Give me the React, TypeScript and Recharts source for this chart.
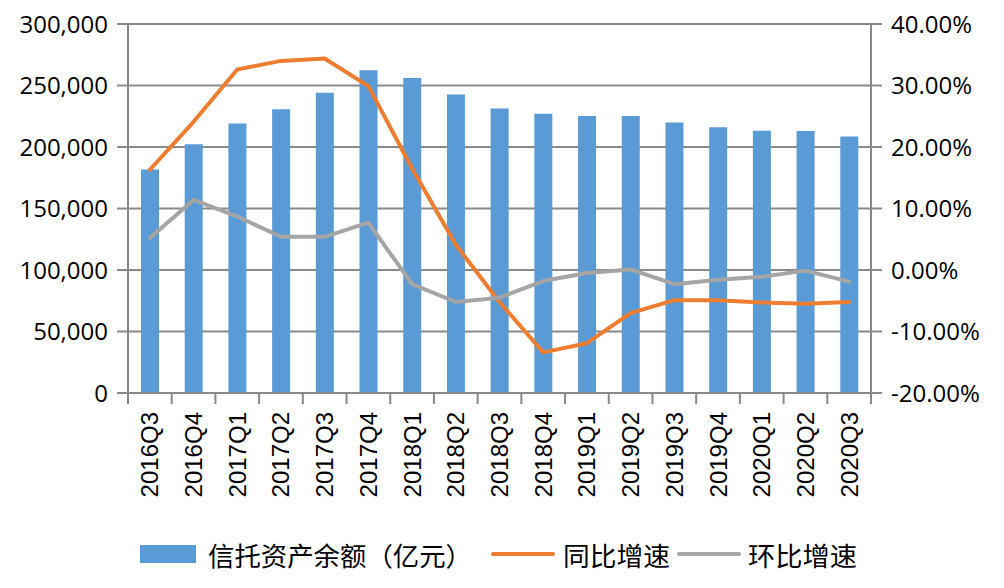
import {
  ComposedChart,
  Bar,
  Line,
  XAxis,
  YAxis,
  CartesianGrid,
  Legend,
} from "recharts";

const quarters = [
  "2016Q3", "2016Q4", "2017Q1", "2017Q2", "2017Q3", "2017Q4",
  "2018Q1", "2018Q2", "2018Q3", "2018Q4", "2019Q1", "2019Q2",
  "2019Q3", "2019Q4", "2020Q1", "2020Q2", "2020Q3",
];
// 信托资产余额（亿元）
const balance = [
  181700, 202200, 219100, 230700, 244100, 262500,
  256100, 242700, 231400, 227000, 225300, 225300,
  219900, 216000, 213300, 213000, 208600,
];
// 同比增速
const yoy = [
  0.163, 0.241, 0.326, 0.34, 0.344, 0.299,
  0.165, 0.041, -0.052, -0.134, -0.119, -0.07,
  -0.049, -0.049, -0.053, -0.055, -0.052,
];
// 环比增速
const qoq = [
  0.052, 0.114, 0.087, 0.054, 0.054, 0.077,
  -0.023, -0.052, -0.045, -0.018, -0.005, 0.001,
  -0.023, -0.016, -0.011, -0.001, -0.019,
];
const leftTicks = [0, 50000, 100000, 150000, 200000, 250000, 300000];
const rightTicks = [-0.2, -0.1, 0, 0.1, 0.2, 0.3, 0.4];

const data = quarters.map((q, i) => ({
  q,
  balance: balance[i],
  yoy: yoy[i],
  qoq: qoq[i],
}));

const W = 1004;
const H = 588;
const LEFT_W = 128;
const RIGHT_W = 133;
const BAND = (W - LEFT_W - RIGHT_W) / quarters.length;

const BLUE = "#5b9bd5";
const ORANGE = "#ed7d31";
const GRAY = "#a5a5a5";
const AXIS = "#898989";
const numFont = { fontFamily: "Open Sans", fontSize: 24, fill: "#000" };

function QuarterTick(props: any) {
  const { x, y, payload, index } = props;
  const half = BAND / 2;
  const ty = y + 19;
  return (
    <g>
      <line x1={x - half} x2={x - half} y1={y} y2={y + 11} stroke={AXIS} strokeWidth={2} />
      {index === quarters.length - 1 && (
        <line x1={x + half} x2={x + half} y1={y} y2={y + 11} stroke={AXIS} strokeWidth={2} />
      )}
      <text
        x={x}
        y={ty}
        transform={`rotate(-90 ${x} ${ty})`}
        textAnchor="end"
        dominantBaseline="central"
        fontFamily="Liberation Sans"
        fontSize={24}
        fill="#000"
      >
        {payload.value}
      </text>
    </g>
  );
}

function LegendBox() {
  const cy = 26;
  const txt = { fontFamily: "Noto Sans CJK SC", fontSize: 26, fill: "#000", dominantBaseline: "central" as const };
  return (
    <svg width={W} height={60} style={{ display: "block" }}>
      <rect x={140} y={cy - 9} width={56} height={18} fill={BLUE} />
      <text x={208} y={cy} textLength={264} lengthAdjust="spacingAndGlyphs" {...txt}>
        信托资产余额（亿元）
      </text>
      <line x1={493} x2={553} y1={cy} y2={cy} stroke={ORANGE} strokeWidth={4} strokeLinecap="round" />
      <text x={563} y={cy} textLength={107} lengthAdjust="spacingAndGlyphs" {...txt}>
        同比增速
      </text>
      <line x1={679} x2={739} y1={cy} y2={cy} stroke={GRAY} strokeWidth={4} strokeLinecap="round" />
      <text x={748} y={cy} textLength={109} lengthAdjust="spacingAndGlyphs" {...txt}>
        环比增速
      </text>
    </svg>
  );
}

export default function App() {
  return (
    <div style={{ position: "absolute", left: 0, top: 0, width: W, height: H, background: "#fff" }}>
      <ComposedChart
        width={W}
        height={H}
        data={data}
        margin={{ top: 24, right: 0, left: 0, bottom: 0 }}
        barSize={18}
      >
        <CartesianGrid vertical={false} stroke={AXIS} strokeWidth={2} yAxisId="amt" />
        <XAxis
          dataKey="q"
          interval={0}
          height={135}
          tickLine={false}
          tickSize={0}
          tickMargin={0}
          axisLine={{ stroke: AXIS, strokeWidth: 2 }}
          tick={<QuarterTick />}
        />
        <YAxis
          yAxisId="amt"
          width={LEFT_W}
          domain={[0, 300000]}
          ticks={leftTicks}
          tickSize={11}
          tickMargin={9}
          tick={numFont}
          axisLine={{ stroke: AXIS, strokeWidth: 2 }}
          tickLine={{ stroke: AXIS, strokeWidth: 2 }}
          tickFormatter={(v) => Number(v).toLocaleString("en-US")}
        />
        <YAxis
          yAxisId="pct"
          orientation="right"
          width={RIGHT_W}
          domain={[-0.2, 0.4]}
          ticks={rightTicks}
          tickSize={11}
          tickMargin={9}
          tick={numFont}
          axisLine={{ stroke: AXIS, strokeWidth: 2 }}
          tickLine={{ stroke: AXIS, strokeWidth: 2 }}
          tickFormatter={(v) => `${(Number(v) * 100).toFixed(2)}%`}
        />
        <Legend
          verticalAlign="bottom"
          content={() => <LegendBox />}
          wrapperStyle={{ position: "absolute", left: 0, top: 528, width: W, height: 60 }}
        />
        <Bar yAxisId="amt" dataKey="balance" name="信托资产余额（亿元）" fill={BLUE} isAnimationActive={false} />
        <Line
          yAxisId="pct"
          type="linear"
          dataKey="yoy"
          name="同比增速"
          stroke={ORANGE}
          strokeWidth={4}
          strokeLinecap="round"
          strokeLinejoin="round"
          dot={false}
          isAnimationActive={false}
        />
        <Line
          yAxisId="pct"
          type="linear"
          dataKey="qoq"
          name="环比增速"
          stroke={GRAY}
          strokeWidth={4}
          strokeLinecap="round"
          strokeLinejoin="round"
          dot={false}
          isAnimationActive={false}
        />
      </ComposedChart>
    </div>
  );
}
